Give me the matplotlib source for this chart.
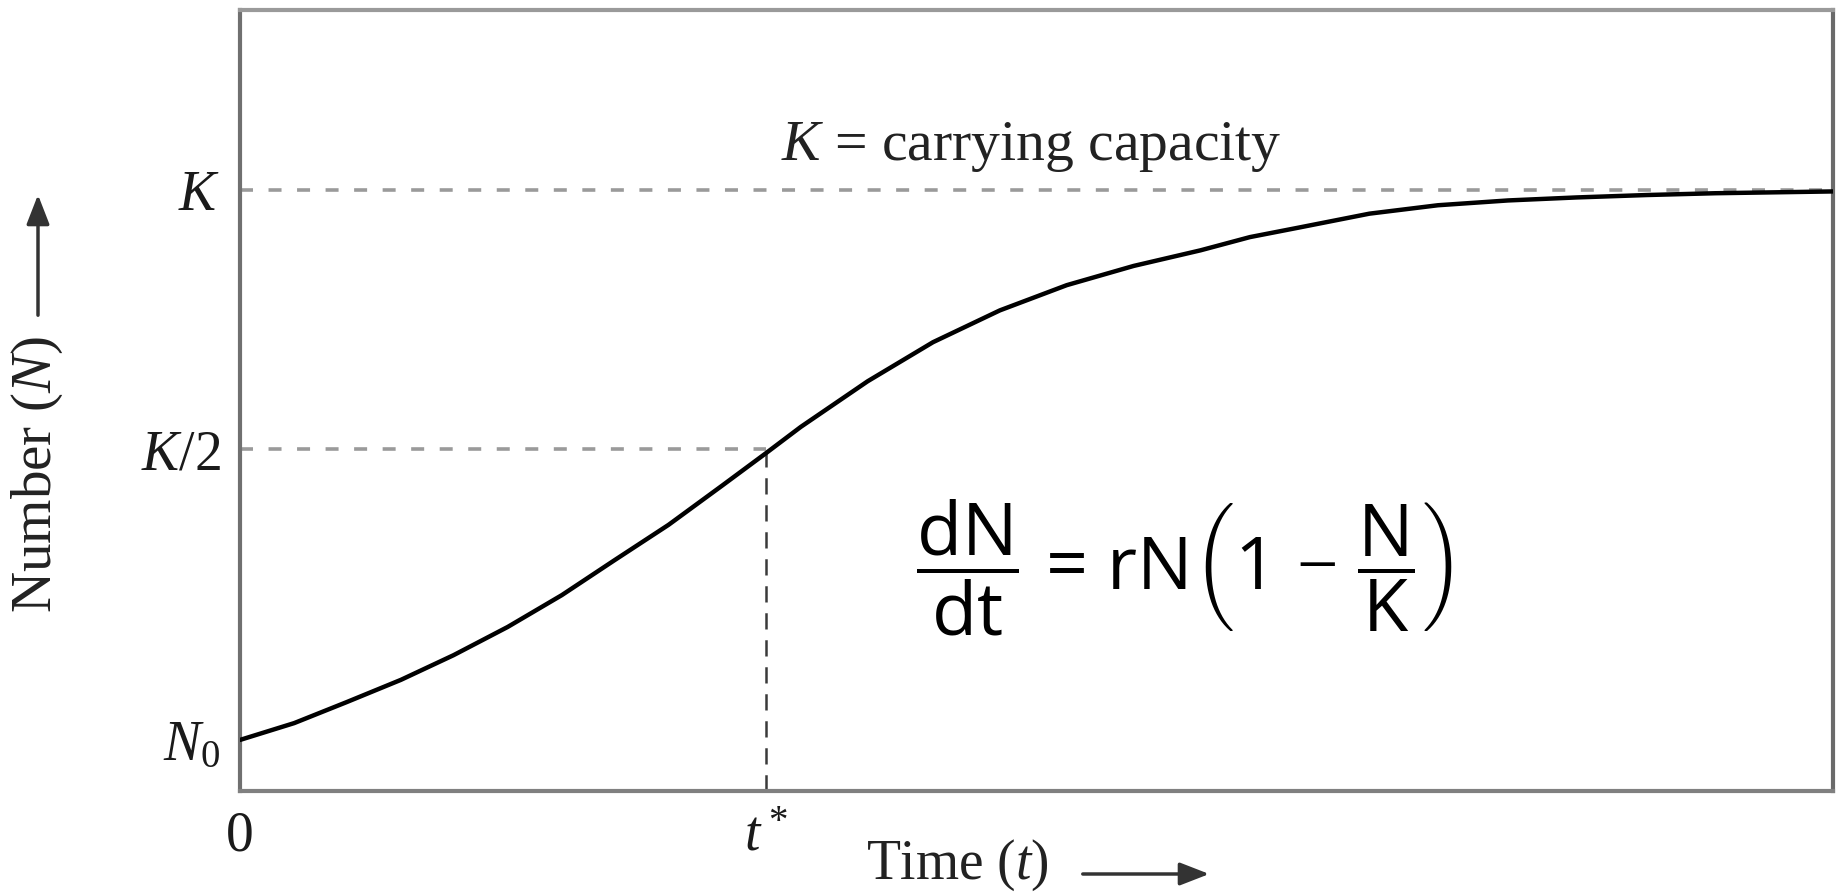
import matplotlib
matplotlib.use("Agg")
import matplotlib.pyplot as plt
import matplotlib.patches as mpatches

# ---------------- data ----------------
t_vals = [0.00, 0.34, 0.67, 1.01, 1.34, 1.68, 2.02, 2.35, 2.69, 3.03,
          3.30, 3.52, 3.94, 4.35, 4.77, 5.19, 5.61, 6.03, 6.34, 6.65,
          7.09, 7.52, 7.96, 8.39, 8.83, 9.26, 10.0]
n_vals = [8.5, 11.3, 14.8, 18.5, 22.6, 27.3, 32.6, 38.4, 44.3, 50.9,
          56.2, 60.6, 68.2, 74.7, 80.0, 84.2, 87.4, 90.0, 92.2, 93.8,
          96.1, 97.5, 98.3, 98.8, 99.2, 99.5, 99.8]

N0 = 8.5          # initial population level
K_half = 56.9     # K/2 level (as drawn)
K = 100.0         # carrying capacity level
t_star = 3.30     # inflection time
t_max = 10.0
n_max = 130.0

ytick_labels = [r"$N_0$", r"$K/2$", r"$K$"]
xtick_labels = ["0", r"$t^*$"]

# ---------------- style ----------------
plt.rcParams["mathtext.fontset"] = "custom"
plt.rcParams["mathtext.rm"] = "Liberation Serif"
plt.rcParams["mathtext.it"] = "Liberation Serif:italic"
plt.rcParams["mathtext.bf"] = "Liberation Serif:bold"
plt.rcParams["mathtext.sf"] = "Open Sans"
plt.rcParams["font.family"] = ["Liberation Serif", "DejaVu Serif"]

W, H = 1839, 892
fig = plt.figure(figsize=(W / 100, H / 100), dpi=100)
ax = fig.add_axes([240 / W, 1 - 791 / H, (1833 - 240) / W, (791 - 10) / H])

ax.set_xlim(0, t_max)
ax.set_ylim(0, n_max)

# dashed reference lines
ax.axhline(K, color="#9a9a9a", lw=2.6, ls=(0, (3.6, 4.3)), zorder=1)
ax.plot([0, t_star], [K_half, K_half], color="#9a9a9a", lw=2.6,
        ls=(0, (3.6, 4.3)), zorder=1)
ax.plot([t_star, t_star], [0, K_half], color="#3a3a3a", lw=1.8,
        ls=(0, (6.5, 4.3)), zorder=1)

# logistic curve
ax.plot(t_vals, n_vals, color="black", lw=3.2, solid_joinstyle="round",
        solid_capstyle="round", zorder=3)

# spines
for side in ["left", "right", "top", "bottom"]:
    ax.spines[side].set_linewidth(3)
ax.spines["left"].set_color("#707070")
ax.spines["right"].set_color("#6a6a6a")
ax.spines["top"].set_color("#9a9a9a")
ax.spines["bottom"].set_color("#808080")

ax.set_yticks([N0, K_half, K])
ax.set_yticklabels(ytick_labels, fontsize=40, color="#1a1a1a")
ax.set_xticks([0, t_star])
ax.set_xticklabels(xtick_labels, fontsize=40, color="#1a1a1a")
ax.tick_params(axis="both", length=0)
ax.tick_params(axis="y", pad=14)
ax.tick_params(axis="x", pad=14)

# annotation text
ax.text(0.4966, 0.808, r"$K$ = carrying capacity", transform=ax.transAxes,
        ha="center", va="baseline", fontsize=41.5, color="#222222")

ax.text(0.593, 0.285,
        r"$\dfrac{\mathsf{dN}}{\mathsf{dt}}\,\mathsf{=}\,\mathsf{rN}\left(\mathsf{1}\,-\,\dfrac{\mathsf{N}}{\mathsf{K}}\right)$",
        transform=ax.transAxes, ha="center", va="center", fontsize=53,
        color="black")

# axis labels with arrows
fig.text(957 / W, 1 - 865 / H, r"Time ($t$)", ha="center", va="center",
         fontsize=40, color="#222222")
fig.add_artist(mpatches.FancyArrowPatch(
    (1080 / W, 1 - 874 / H), (1212 / W, 1 - 874 / H),
    transform=fig.transFigure, arrowstyle="-|>,head_length=0.9,head_width=0.35",
    mutation_scale=20, lw=2.5, color="#333333"))

fig.text(37 / W, 1 - 475 / H, r"Number ($N$)", ha="center", va="center",
         rotation=90, fontsize=41, color="#222222")
fig.add_artist(mpatches.FancyArrowPatch(
    (38 / W, 1 - 318 / H), (38 / W, 1 - 192 / H),
    transform=fig.transFigure, arrowstyle="-|>,head_length=0.9,head_width=0.35",
    mutation_scale=20, lw=2.5, color="#333333"))

fig.savefig("out.png", dpi=100)
